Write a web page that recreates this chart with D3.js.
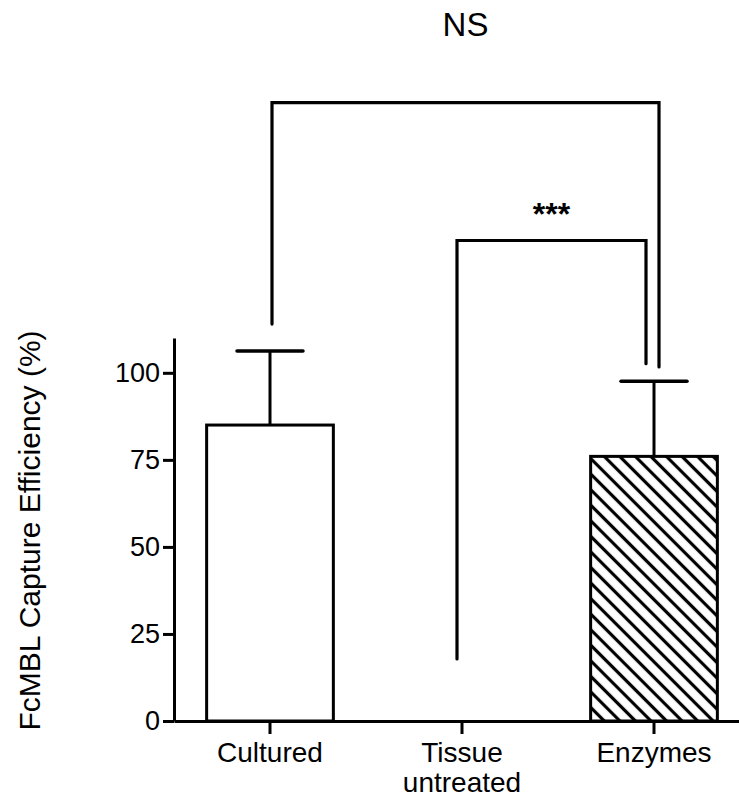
<!DOCTYPE html>
<html lang="en">
<head>
    <meta charset="UTF-8">
    <title>FcMBL Capture Efficiency</title>
    <script src="https://d3js.org/d3.v7.min.js"></script>
    <style>
        body { margin: 0; background: #fff; }
        text { font-family: Arial, "Liberation Sans", sans-serif; fill: #000; }
    </style>
</head>
<body>
    <script>
        // data
        const categories = ["Cultured", "Tissue untreated", "Enzymes"];
        const tickLabels = [["Cultured"], ["Tissue", "untreated"], ["Enzymes"]];
        const means = [85, 0, 76];
        const errors = [21.3, 0, 21.6];
        const hatched = [false, false, true];
        const yTicks = [0, 25, 50, 75, 100];

        // significance brackets (values in % units)
        const bracketFrom = ["Cultured", "Tissue untreated"];
        const bracketTo = ["Enzymes", "Enzymes"];
        const bracketTop = [177.6, 138];
        const bracketLeftEnd = [114, 17.8];
        const bracketRightEnd = [101.7, 102.6];
        const bracketLabels = ["NS", "***"];
        const bracketLabelY = [196.8, 142.5];

        const width = 739;
        const height = 799;

        const svg = d3.select('body')
          .append('svg')
          .attr('width', width)
          .attr('height', height);

        // hatch pattern for the enzymes bar
        const defs = svg.append('defs');
        defs.append('pattern')
          .attr('id', 'hatch')
          .attr('patternUnits', 'userSpaceOnUse')
          .attr('width', 11)
          .attr('height', 11)
          .attr('patternTransform', 'rotate(-45)')
          .append('line')
          .attr('x1', 5.5).attr('y1', 0)
          .attr('x2', 5.5).attr('y2', 11)
          .attr('stroke', '#000')
          .attr('stroke-width', 3.2);

        const x = d3.scaleBand()
          .domain(categories)
          .range([174, 750])
          .paddingInner(0.34)
          .paddingOuter(0.17);

        const y = d3.scaleLinear()
          .domain([0, 110])
          .range([721, 338]);

        const cx = (c) => x(c) + x.bandwidth() / 2;

        // bars
        svg.selectAll('rect.bar')
          .data(categories)
          .join('rect')
          .attr('class', 'bar')
          .attr('x', (d) => x(d))
          .attr('y', (d, i) => y(means[i]))
          .attr('width', x.bandwidth())
          .attr('height', (d, i) => y(0) - y(means[i]))
          .attr('fill', (d, i) => hatched[i] ? 'url(#hatch)' : '#fff')
          .attr('stroke', '#000')
          .attr('stroke-width', 3)
          .style('display', (d, i) => means[i] > 0 ? null : 'none');

        // error bars (upper only)
        const capW = 66;
        categories.forEach((c, i) => {
          if (errors[i] <= 0) return;
          svg.append('line')
            .attr('x1', cx(c)).attr('x2', cx(c))
            .attr('y1', y(means[i])).attr('y2', y(means[i] + errors[i]))
            .attr('stroke', '#000').attr('stroke-width', 3);
          svg.append('line')
            .attr('x1', cx(c) - capW / 2).attr('x2', cx(c) + capW / 2)
            .attr('y1', y(means[i] + errors[i])).attr('y2', y(means[i] + errors[i]))
            .attr('stroke', '#000').attr('stroke-width', 3.5)
            .attr('stroke-linecap', 'round');
        });

        // axes
        const yAxis = d3.axisLeft(y)
          .tickValues(yTicks)
          .tickSize(11)
          .tickPadding(3)
          .tickSizeOuter(0);

        const gy = svg.append('g')
          .attr('transform', 'translate(174,0)')
          .call(yAxis);
        gy.select('.domain').attr('stroke-width', 3);
        gy.selectAll('.tick line').attr('stroke-width', 3);
        gy.selectAll('.tick text')
          .style('font-size', '27px')
          .attr('font-family', null);

        const xAxis = d3.axisBottom(x)
          .tickSize(13)
          .tickSizeOuter(0)
          .tickFormat('');

        const gx = svg.append('g')
          .attr('transform', 'translate(0,721)')
          .call(xAxis);
        gx.select('.domain').attr('stroke-width', 3);
        gx.selectAll('.tick line').attr('stroke-width', 3);

        gx.selectAll('.tick')
          .append('text')
          .attr('text-anchor', 'middle')
          .style('font-size', '28px')
          .selectAll('tspan')
          .data((d, i) => tickLabels[i])
          .join('tspan')
          .attr('x', 0)
          .attr('y', (d, j) => 41 + j * 30)
          .text((d) => d);

        // y axis title
        svg.append('text')
          .attr('transform', `translate(40,${(733 + 328) / 2}) rotate(-90)`)
          .attr('text-anchor', 'middle')
          .style('font-size', '30px')
          .text('FcMBL Capture Efficiency (%)');

        // significance brackets
        const leftOff = [2, -5];
        const rightOff = [5, -8];
        bracketLabels.forEach((lab, i) => {
          const x1 = cx(bracketFrom[i]) + leftOff[i];
          const x2 = cx(bracketTo[i]) + rightOff[i];
          svg.append('path')
            .attr('d', d3.line()([
              [x1, y(bracketLeftEnd[i])],
              [x1, y(bracketTop[i])],
              [x2, y(bracketTop[i])],
              [x2, y(bracketRightEnd[i])]
            ]))
            .attr('fill', 'none')
            .attr('stroke', '#000')
            .attr('stroke-width', 3.2)
            .attr('stroke-linecap', 'round');
          svg.append('text')
            .attr('x', (x1 + x2) / 2)
            .attr('y', y(bracketLabelY[i]))
            .attr('text-anchor', 'middle')
            .style('font-size', i === 0 ? '33px' : '32px')
            .style('font-weight', i === 0 ? 'normal' : 'bold')
            .text(lab);
        });
    </script>
</body>
</html>
